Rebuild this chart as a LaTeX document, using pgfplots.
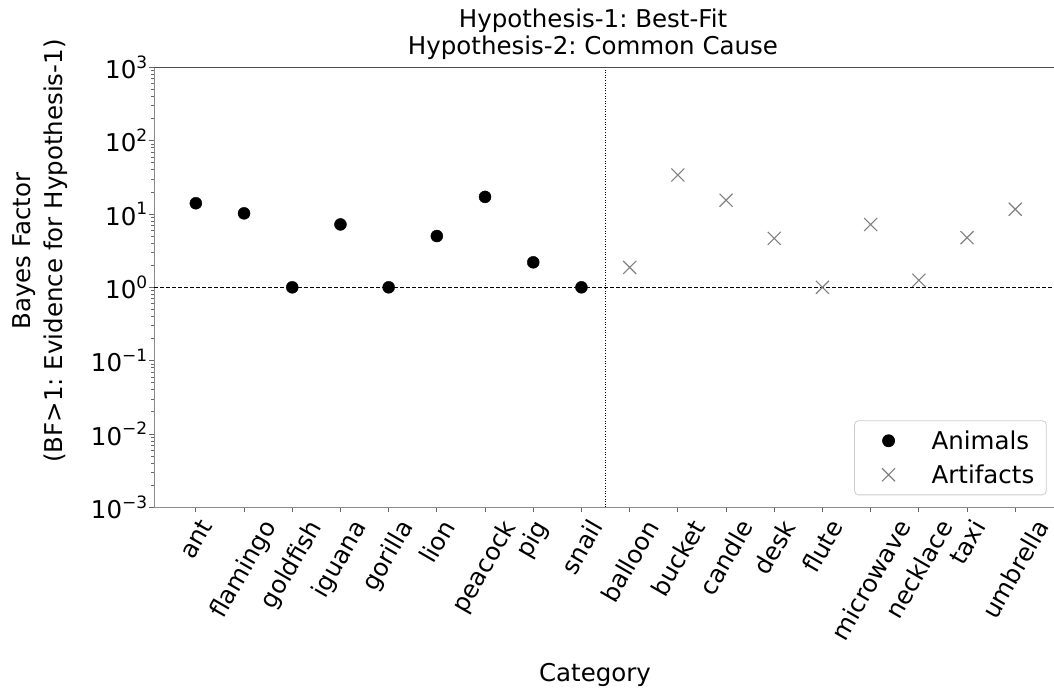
\documentclass[border=0pt]{standalone}
\usepackage{fontspec}
\setmainfont{DejaVu Sans}
\usepackage{pgfplots}
\pgfplotsset{compat=1.18}
\frenchspacing
\newcommand\fs{\fontsize{24.5bp}{29bp}\selectfont}
\newcommand\sups[1]{\raisebox{0.42em}{\fontsize{17bp}{17bp}\selectfont #1}}
\definecolor{artgray}{HTML}{808080}
\pgfplotsset{lmark/.style={legend image code/.code={\path[draw=none,fill=none] (0bp,-6bp) rectangle (65bp,6bp); \draw[##1, rounded corners=0pt] plot coordinates {(24bp,0bp)};}}}
\begin{document}
\begin{tikzpicture}
\begin{axis}[
  at={(0,0)}, anchor=south west,
  scale only axis, width=902.3bp, height=440bp,
  xmin=-0.86, xmax=17.86,
  ymode=log, log basis y=10, ymin=1e-3, ymax=1e3,
  axis x line*=bottom, axis y line*=left,
  axis line style={-, black!45, line width=0.9bp},
  xtick={0,...,17},
  xticklabels={\rotatebox{60}{ant},\rotatebox{60}{flamingo},\rotatebox{60}{goldfish},\rotatebox{60}{iguana},\rotatebox{60}{gorilla},\rotatebox{60}{lion},\rotatebox{60}{peacock},\rotatebox{60}{pig},\rotatebox{60}{snail},\rotatebox{60}{balloon},\rotatebox{60}{bucket},\rotatebox{60}{candle},\rotatebox{60}{desk},\rotatebox{60}{flute},\rotatebox{60}{microwave},\rotatebox{60}{necklace},\rotatebox{60}{taxi},\rotatebox{60}{umbrella}},
  ytick={1e-3,1e-2,1e-1,1,10,100,1000},
  yticklabels={10\sups{−3},10\sups{−2},10\sups{−1},10\sups{0},10\sups{1},10\sups{2},10\sups{3}},
  minor ytick={2e-3,3e-3,4e-3,5e-3,6e-3,7e-3,8e-3,9e-3,2e-2,3e-2,4e-2,5e-2,6e-2,7e-2,8e-2,9e-2,0.2,0.3,0.4,0.5,0.6,0.7,0.8,0.9,2,3,4,5,6,7,8,9,20,30,40,50,60,70,80,90,200,300,400,500,600,700,800,900},
  tick align=outside,
  major tick length=5bp, minor tick length=3bp,
  every tick/.style={black!60, line width=0.8bp},
  tick label style={font=\fs},
  xticklabel style={anchor=north, inner sep=0pt, yshift=-5bp},
  yticklabel style={anchor=east, inner sep=0pt, xshift=-2bp},
  xlabel={Category},
  xlabel style={font=\fs, at={(axis description cs:0.4883,-0.3948)}, anchor=base},
  ylabel={Bayes Factor\\(BF>1: Evidence for Hypothesis-1)},
  ylabel style={font=\fontsize{24.5bp}{32bp}\selectfont, align=center, at={(axis description cs:-0.1268,0.5825)}, anchor=center},
  legend style={at={(0.9889,0.0273)}, anchor=south east, draw=black!20, line width=0.8bp, rounded corners=4bp, font=\fs, fill=white, row sep=10bp, inner xsep=10bp, inner ysep=8bp},
  legend cell align=left,
  clip=false,
]
\draw[black, line width=0.9bp, dash pattern=on 4bp off 2bp] (axis cs:-0.86,1) -- (axis cs:17.86,1);
\draw[black, line width=0.9bp, dash pattern=on 1bp off 1.6bp] (axis cs:8.5,1e-3) -- (axis cs:8.5,1e3);
\draw[black!70, line width=1bp] (rel axis cs:0,1) -- (rel axis cs:1,1);
\addplot[only marks, mark=*, mark size=6bp, black, lmark] coordinates {(0,14.0)(1,10.2)(2,1.0)(3,7.2)(4,1.0)(5,5.0)(6,17.1)(7,2.19)(8,1.0)};
\addlegendentry{Animals}
\addplot[only marks, mark=x, mark size=9.2bp, artgray, line width=1.1bp, lmark] coordinates {(9,1.87)(10,34.0)(11,15.4)(12,4.66)(13,1.0)(14,7.2)(15,1.25)(16,4.75)(17,11.6)};
\addlegendentry{Artifacts}
\node[anchor=base, font=\fs] at (rel axis cs:0.4861,1.0916) {Hypothesis-1: Best-Fit};
\node[anchor=base, font=\fs] at (rel axis cs:0.4861,1.0295) {Hypothesis-2: Common Cause};
\end{axis}
\pgfresetboundingbox
\useasboundingbox (-154.4bp,-182.7bp) rectangle (899.6bp,507.3bp);
\end{tikzpicture}
\end{document}
